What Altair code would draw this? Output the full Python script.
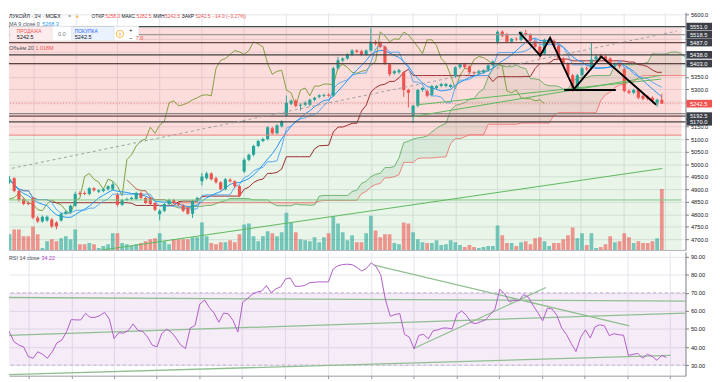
import altair as alt
import pandas as pd

FONT = "Liberation Sans"

# ---------------- data ----------------
opens = [4928,4944,4893,4861,4845,4865,4786,4771,4775,4779,
         4767,4775,4802,4810,4834,4885,4885,4881,4904,4890,
         4893,4900,4900,4877,4838,4857,4861,4861,4885,4865,
         4865,4845,4800,4814,4841,4857,4845,4834,4826,4802,
         4853,4932,4944,4963,4944,4928,4900,4938,4932,4912,
         4971,5018,5038,5073,5093,5101,5144,5124,5152,5195,
         5242,5254,5234,5238,5238,5258,5270,5274,5278,5274,
         5384,5415,5423,5439,5455,5452,5439,5455,5490,5486,
         5470,5400,5364,5368,5368,5297,5191,5234,5297,5293,
         5278,5305,5313,5313,5309,5352,5388,5400,5392,5368,
         5364,5368,5376,5396,5490,5530,5521,5490,5502,5498,
         5525,5518,5490,5470,5443,5490,5494,5474,5423,5403,
         5356,5297,5356,5384,5384,5419,5435,5431,5423,5396,
         5400,5380,5293,5286,5297,5274,5270,5266,5246,5258]
highs = [4952,4948,4897,4866,4852,4868,4792,4795,4795,4785,
         4772,4806,4815,4838,4890,4892,4892,4908,4908,4900,
         4904,4916,4930,4885,4862,4866,4870,4890,4890,4870,
         4870,4848,4820,4845,4862,4862,4850,4840,4830,4858,
         4870,4965,4970,4968,4950,4932,4945,4944,4936,4916,
         5025,5042,5078,5098,5106,5152,5150,5160,5176,5275,
         5260,5260,5244,5252,5262,5270,5280,5282,5284,5390,
         5430,5428,5444,5460,5460,5458,5460,5545,5496,5492,
         5475,5405,5378,5382,5372,5302,5238,5302,5310,5298,
         5318,5318,5326,5326,5322,5392,5405,5406,5396,5372,
         5378,5380,5400,5416,5535,5536,5526,5506,5508,5533,
         5538,5524,5496,5476,5503,5506,5500,5478,5428,5408,
         5362,5362,5390,5392,5485,5440,5442,5436,5428,5408,
         5405,5386,5300,5302,5302,5280,5276,5272,5262,5282.5]
lows = [4922,4888,4850,4836,4836,4780,4765,4766,4770,4745,
        4740,4770,4798,4805,4830,4875,4876,4876,4890,4884,
        4888,4895,4895,4830,4833,4852,4856,4856,4860,4840,
        4836,4812,4775,4808,4836,4840,4832,4808,4798,4785,
        4848,4915,4938,4935,4922,4895,4895,4926,4905,4868,
        4965,5012,5032,5068,5088,5096,5118,5119,5147,5190,
        5236,5228,5215,5232,5232,5252,5264,5268,5270,5270,
        5378,5408,5418,5434,5444,5434,5434,5450,5476,5464,
        5398,5352,5358,5362,5270,5227,5165,5228,5290,5268,
        5272,5300,5308,5308,5304,5346,5382,5383,5362,5358,
        5358,5362,5370,5390,5480,5508,5486,5484,5494,5492,
        5512,5488,5465,5420,5438,5484,5470,5418,5398,5350,
        5290,5292,5350,5374,5378,5414,5420,5410,5395,5390,
        5385,5288,5280,5280,5260,5256,5256,5248,5230,5242.5]
closes = [4940,4893,4857,4841,4841,4786,4771,4790,4790,4751,
          4751,4802,4810,4834,4881,4881,4881,4904,4896,4896,
          4900,4912,4920,4838,4857,4861,4866,4885,4865,4845,
          4841,4818,4814,4841,4857,4845,4838,4814,4802,4853,
          4865,4951,4963,4940,4928,4900,4940,4932,4912,4873,
          5018,5038,5073,5093,5101,5148,5124,5156,5172,5246,
          5254,5234,5238,5246,5258,5266,5276,5278,5274,5384,
          5416,5423,5439,5455,5450,5439,5455,5490,5482,5470,
          5403,5360,5372,5376,5297,5286,5234,5297,5305,5274,
          5313,5313,5321,5321,5317,5388,5400,5388,5368,5364,
          5372,5376,5396,5411,5530,5514,5490,5502,5500,5529,
          5518,5494,5470,5443,5498,5498,5475,5423,5403,5356,
          5301,5356,5384,5380,5419,5431,5427,5415,5400,5403,
          5392,5293,5286,5297,5266,5262,5262,5254,5258,5242.5]
volumes_k = [262,344,344,230,230,394,262,33,148,180,
             148,197,230,180,344,98,98,115,98,33,
             66,98,279,279,115,98,66,98,115,148,
             180,197,279,148,98,180,180,180,180,213,
             213,459,230,115,98,131,131,164,131,262,
             426,443,230,148,230,312,279,230,295,623,
             459,295,180,164,148,213,131,213,279,558,
             443,295,164,246,131,131,279,574,328,213,
             262,262,115,98,459,443,295,180,131,115,
             115,164,82,98,164,131,82,49,82,49,
             33,49,66,66,410,246,115,115,66,131,
             148,98,197,213,148,66,115,115,180,246,
             377,197,279,82,279,33,49,98,230,131,
             148,279,213,115,148,115,115,148,197,1018]
rsi_vals = [55.2,48.3,42.9,41.1,40.1,34.7,33.8,37.4,36.0,33.8,
            37.4,42.3,43.8,48.3,55.2,55.0,55.0,58.6,56.4,56.4,
            57.4,59.2,55.5,44.7,47.9,47.7,49.2,52.8,49.2,48.7,
            45.6,41.1,40.1,47.4,49.8,48.3,45.0,41.1,39.2,50.5,
            51.9,63.7,66.0,61.9,58.8,53.7,58.8,58.3,54.6,48.3,
            64.6,66.8,69.1,70.4,70.9,74.0,70.0,72.2,73.3,77.6,
            78.2,73.6,73.6,74.0,75.5,75.8,76.0,76.0,76.0,83.1,
            84.9,85.6,85.8,85.5,84.0,82.0,83.5,86.5,84.5,80.0,
            66.0,57.0,58.0,58.5,47.0,45.5,39.0,46.5,47.0,44.5,
            49.0,49.5,50.5,50.5,50.0,58.0,60.0,57.5,53.5,53.0,
            54.0,55.0,58.0,61.0,72.0,69.5,65.0,66.0,65.5,69.0,
            67.5,63.0,59.0,54.5,61.5,61.0,57.5,50.5,47.0,42.0,
            37.5,45.5,49.5,45.0,51.2,52.3,51.7,46.3,47.4,46.8,
            46.5,35.4,36.0,36.5,33.8,36.0,34.9,32.7,35.4,34.22]

# horizontal drawing levels
levels = [5551.0, 5518.5, 5487.0, 5438.0, 5403.0, 5203.0, 5192.5, 5170.0]
level_labels = [5551.0, 5518.5, 5487.0, 5438.0, 5403.0, 5192.5, 5170.0]
last_price = [5242.5]
zone_top = [5545.0, 5116.6]
zone_bottom = [5116.6, 4656.7]
zone_edge = [5116.6]
green_level = [4857.0]

# drawn trend lines (bar index, price)
dash_idx = [-0.7, 142.2]
dash_price = [4979.0, 5533.0]
gline_id = ["a", "a", "b", "b", "c", "c"]
gline_idx = [18.45, 139.1, 86.1, 138.9, 86.9, 138.9]
gline_price = [4653.0, 4983.0, 5191.0, 5356.0, 5238.0, 5341.0]
zig_idx = [108.6, 113.1, 115.2, 120.3, 126.1, 137.8]
zig_price = [5529.0, 5435.0, 5506.0, 5301.0, 5431.0, 5238.0]
neck_idx = [118.2, 129.2]
neck_price = [5297.0, 5297.0]

# RSI pane drawings
rline_id = ["a", "a", "b", "b", "c", "c", "d", "d", "e", "e"]
rline_idx = [-0.7, 143.0, -0.7, 143.0, -0.7, 139.9, 77.6, 131.2, 85.9, 113.7]
rline_val = [67.4, 65.4, 46.3, 58.8, 24.6, 35.4, 85.3, 51.7, 39.2, 72.9]
rsi_upper = [70]
rsi_lower = [30]

day_ticks = [5.05, 14.1, 23.0, 31.9, 40.9, 49.8, 58.9, 67.9, 77.0, 85.9,
             95.0, 103.8, 112.9, 121.7, 130.8, 139.7]
price_ticks = list(range(4700, 5601, 50))
hidden_ticks = [5550, 5500, 5450, 5400, 5250, 5200]
rsi_ticks = [30, 40, 50, 60, 70, 80, 90]

# ---------------- tables ----------------
n = len(closes)
df = pd.DataFrame({"idx": list(range(n)), "open": opens, "high": highs, "low": lows,
                   "close": closes, "vol": volumes_k, "rsi": rsi_vals})
one = pd.DataFrame({"k": [0]})

W, H1, H2 = 689, 242, 126
XS = alt.Scale(domain=[0.93, 143.0], nice=False, zero=False)
PS = alt.Scale(domain=[4656.7, 5607.9], nice=False, zero=False)
VS = alt.Scale(domain=[0, 3973], nice=False, zero=False)
RS = alt.Scale(domain=[24.19, 92.55], nice=False, zero=False)

GRID = "#e3e6ec"
hide_expr = "indexof(" + str(hidden_ticks) + ", datum.value) >= 0 ? '' : datum.label"
XAX_P = alt.Axis(values=day_ticks, grid=True, gridColor=GRID, labels=False, ticks=False,
                 domain=True, domainColor="#b2b5be", title=None)
XAX_R = alt.Axis(values=day_ticks, grid=True, gridColor=GRID, labels=False, ticks=True,
                 tickSize=3, tickColor="#9598a1", domain=True, domainColor="#9598a1", title=None)
YAX_P = alt.Axis(orient="right", values=price_ticks, format=".1f", grid=True, gridColor=GRID,
                 labelExpr=hide_expr,
                 labelFont=FONT, labelFontSize=5.8, labelColor="#131722", labelPadding=2,
                 tickSize=3, tickColor="#787b86", domainColor="#787b86", title=None)
RAX = alt.Axis(orient="right", values=rsi_ticks, format=".2f", grid=True, gridColor=GRID,
               labelFont=FONT, labelFontSize=5.8, labelColor="#131722", labelPadding=2,
               tickSize=3, tickColor="#787b86", domainColor="#787b86", title=None)


def xq(field="idx", ax=XAX_P):
    return alt.X(f"{field}:Q", scale=XS, axis=ax)


def yp(field, axis=True):
    return alt.Y(f"{field}:Q", scale=PS, axis=YAX_P if axis else None)


def yr(field):
    return alt.Y(f"{field}:Q", scale=RS, axis=RAX)


def txt(s, x, y, color="#131722", size=5.5, weight="normal", align="left"):
    return alt.Chart(one).mark_text(text=s, align=align, baseline="middle", font=FONT,
                                    fontSize=size, color=color, fontWeight=weight).encode(
        x=alt.value(x), y=alt.value(y))


def box(x1, y1, x2, y2, fill, stroke="#e0e3eb"):
    return alt.Chart(one).mark_rect(fill=fill, stroke=stroke, strokeWidth=0.6).encode(
        x=alt.value(x1), x2=alt.value(x2), y=alt.value(y1), y2=alt.value(y2))


DIR = alt.Color("dir:N", scale=alt.Scale(domain=["up", "down"], range=["#26a69a", "#ef5350"]),
                legend=None)

# ---------------- lower group (backgrounds, cloud) ----------------
zones = pd.DataFrame({"top": zone_top, "bottom": zone_bottom, "c": ["#f44336", "#4caf50"],
                      "o": [0.18, 0.13]})
bg = alt.Chart(zones).mark_rect().encode(
    x=alt.value(0), x2=alt.value(685), y=yp("top", False), y2=alt.Y2("bottom"),
    color=alt.Color("c:N", scale=None), opacity=alt.Opacity("o:Q", scale=None))

srt = [alt.SortField("idx")]
ich = (alt.Chart(df)
       .transform_window(hh9="max(high)", ll9="min(low)", frame=[-8, 0], sort=srt)
       .transform_window(hh26="max(high)", ll26="min(low)", frame=[-25, 0], sort=srt)
       .transform_window(hh52="max(high)", ll52="min(low)", frame=[-51, 0], sort=srt)
       .transform_window(ma9="mean(close)", frame=[-8, 0], sort=srt)
       .transform_calculate(tenkan="(datum.hh9 + datum.ll9) / 2")
       .transform_calculate(kijun="(datum.hh26 + datum.ll26) / 2")
       .transform_calculate(spanA="(datum.tenkan + datum.kijun) / 2")
       .transform_calculate(spanB="(datum.hh52 + datum.ll52) / 2")
       .transform_calculate(lowAB="min(datum.spanA, datum.spanB)")
       .transform_calculate(xf="datum.idx + 25")
       .transform_calculate(xc="datum.idx - 25"))

cloud_g = ich.mark_area(color="#2e7d32", opacity=0.09, clip=True).encode(
    x=xq("xf"), y=yp("spanA", False), y2=alt.Y2("lowAB"))
cloud_r = ich.mark_area(color="#ff0000", opacity=0.1, clip=True).encode(
    x=xq("xf"), y=yp("spanB", False), y2=alt.Y2("lowAB"))

lower = alt.layer(bg, cloud_g, cloud_r)

# ---------------- volume ----------------
cand = alt.Chart(df).transform_calculate(dir="datum.close >= datum.open ? 'up' : 'down'")
vol = cand.mark_bar(width=3.8, opacity=0.6, clip=True).encode(
    x=xq(), y=alt.Y("vol:Q", scale=VS, axis=None), color=DIR)

# ---------------- upper group ----------------
spanA_l = ich.mark_line(color="#43a047", strokeWidth=0.9, opacity=0.8, clip=True).encode(
    x=xq("xf"), y=yp("spanA"))
spanB_l = ich.mark_line(color="#ef5350", strokeWidth=0.9, opacity=0.75, clip=True).encode(
    x=xq("xf"), y=yp("spanB"))
chikou = ich.mark_line(color="#7f9f3f", strokeWidth=1, clip=True).encode(
    x=xq("xc"), y=yp("close"))
kijun = ich.mark_line(color="#9b2c2c", strokeWidth=1, clip=True).encode(
    x=xq(), y=yp("kijun"))
tenkan = ich.mark_line(color="#5aa9f0", strokeWidth=1, clip=True).encode(
    x=xq(), y=yp("tenkan"))
ma9 = ich.mark_line(color="#2196f3", strokeWidth=1, clip=True).encode(
    x=xq(), y=yp("ma9"))

wick = cand.mark_rule(strokeWidth=1, clip=True).encode(
    x=xq(), y=yp("low"), y2=alt.Y2("high"), color=DIR)
body = cand.mark_bar(width=3.2, clip=True).encode(
    x=xq(), y=yp("open"), y2=alt.Y2("close"), color=DIR)

lev_df = pd.DataFrame({"p": levels,
                       "c": ["#4a4a4a", "#9a9a9a", "#6b4848", "#3f3f3f", "#5a4444",
                             "#8a8a8a", "#6b4848", "#444444"]})
lev = alt.Chart(lev_df).mark_rule(strokeWidth=1.3).encode(
    y=yp("p"), color=alt.Color("c:N", scale=None))
edge = alt.Chart(pd.DataFrame({"p": zone_edge})).mark_rule(color="#ef7b7b", strokeWidth=1).encode(
    x=alt.value(0), x2=alt.value(685), y=yp("p"))
glev = alt.Chart(pd.DataFrame({"p": green_level})).mark_rule(color="#81c784", strokeWidth=1).encode(
    x=alt.value(0), x2=alt.value(685), y=yp("p"))
lastl = alt.Chart(pd.DataFrame({"p": last_price})).mark_rule(
    color="#ef5350", strokeWidth=0.8, strokeDash=[1, 2], opacity=0.8).encode(y=yp("p"))

dash = alt.Chart(pd.DataFrame({"i": dash_idx, "p": dash_price})).mark_line(
    color="#9e9e9e", strokeWidth=1, strokeDash=[3, 3], clip=True).encode(x=xq("i"), y=yp("p"))
glines = alt.Chart(pd.DataFrame({"id": gline_id, "i": gline_idx, "p": gline_price})).mark_line(
    color="#5cb85c", strokeWidth=1, clip=True).encode(x=xq("i"), y=yp("p"), detail="id:N")
zig = alt.Chart(pd.DataFrame({"i": zig_idx, "p": zig_price})).mark_line(
    color="#000000", strokeWidth=2, clip=True).encode(x=xq("i"), y=yp("p"), order="i:Q")
neck = alt.Chart(pd.DataFrame({"i": neck_idx, "p": neck_price})).mark_line(
    color="#000000", strokeWidth=2, clip=True).encode(x=xq("i"), y=yp("p"))

# price-scale boxes
BOX = "M-1,-0.3L1,-0.3L1,0.3L-1,0.3Z"
lab_df = pd.DataFrame({"p": level_labels})
lab_box = alt.Chart(lab_df).mark_point(shape=BOX, filled=True, size=676, color="#3c3f47",
                                       opacity=1).encode(x=alt.value(703), y=yp("p"))
lab_txt = alt.Chart(lab_df).mark_text(align="left", baseline="middle", font=FONT, fontSize=5.8,
                                      color="white").encode(
    x=alt.value(693.5), y=yp("p"), text=alt.Text("p:Q", format=".1f"))
lp_df = pd.DataFrame({"p": last_price})
lp_box = alt.Chart(lp_df).mark_point(shape=BOX, filled=True, size=676, color="#ef5350",
                                     opacity=1).encode(x=alt.value(703), y=yp("p"))
lp_txt = alt.Chart(lp_df).mark_text(align="left", baseline="middle", font=FONT, fontSize=5.8,
                                    color="white").encode(
    x=alt.value(693.5), y=yp("p"), text=alt.Text("p:Q", format=".1f"))

RED = "#ef5350"
S1 = 5.0
header = [
    txt("ЛУКОЙЛ · 1Ч · MOEX", 0, 3.5, "#131722", 5.3),
    txt("=", 60, 3.5, "#787b86", 5.3),
    txt("≡", 68, 3.5, "#ff9800", 5.3),
    txt("ОТКР", 84, 3.5, "#131722", S1), txt("5258.0", 98, 3.5, RED, S1),
    txt("МАКС", 114.5, 3.5, "#131722", S1), txt("5282.5", 130, 3.5, RED, S1),
    txt("МИН", 147, 3.5, "#131722", S1), txt("5242.5", 159, 3.5, RED, S1),
    txt("ЗАКР", 176, 3.5, "#131722", S1), txt("5242.5", 190, 3.5, RED, S1),
    txt("−14.0 (−0.27%)", 207, 3.5, RED, S1),
    txt("MA 9 close 0", 0, 11.5, "#4a4e59"), txt("5268.3", 34, 11.5, "#2196f3"),
    box(1, 14, 44, 29, "#fdeced"),
    box(44, 14, 64, 29, "#ffffff"),
    box(64, 14, 107, 29, "#e9f2fd"),
    box(107, 14, 132, 29, "#ffffff"),
    txt("ПРОДАЖА", 8, 18.5, RED, 5.0),
    txt("5242.5", 8, 25, "#131722", 5.6),
    txt("0.0", 50, 22, "#787b86", 5.6),
    txt("ПОКУПКА", 67, 18.5, "#2962ff", 5.0),
    txt("5242.5", 67, 25, "#131722", 5.6),
    alt.Chart(one).mark_point(shape="circle", size=55, color="#ff9800", strokeWidth=1).encode(
        x=alt.value(113), y=alt.value(22)),
    txt("i", 113, 22, "#ff9800", 5.6, "bold", "center"),
    txt("+", 124, 18, "#131722", 6, "normal", "center"),
    txt("−", 124, 26, "#131722", 6, "normal", "center"),
    txt("7.0", 129, 26, RED, 5.5),
    txt("Объём 20", 0, 36, "#4a4e59"), txt("1.018M", 27, 36, RED),
]

upper = alt.layer(spanA_l, spanB_l, chikou, kijun, tenkan, ma9, wick, body,
                  lev, edge, glev, lastl, dash, glines, zig, neck,
                  lab_box, lab_txt, lp_box, lp_txt, *header)

price = alt.layer(lower, vol, upper).resolve_scale(y="independent").properties(width=W, height=H1)

# ---------------- RSI pane ----------------
band_df = pd.DataFrame({"top": rsi_upper, "bot": rsi_lower})
band = alt.Chart(band_df).mark_rect(color="#9c27b0", opacity=0.09).encode(
    x=alt.value(0), x2=alt.value(W), y=yr("top"), y2=alt.Y2("bot"))
band_lines = alt.Chart(pd.DataFrame({"v": rsi_upper + rsi_lower})).mark_rule(
    color="#b79cc8", strokeDash=[3, 3], strokeWidth=0.8).encode(y=yr("v"))
rl_df = pd.DataFrame({"id": rline_id, "i": rline_idx, "v": rline_val})
rlines = alt.Chart(rl_df).mark_line(color="#8fbf8f", strokeWidth=1.3, clip=True).encode(
    x=xq("i", XAX_R), y=yr("v"), detail="id:N")
rsi_line = alt.Chart(df).mark_line(color="#b05cc8", strokeWidth=1, clip=True).encode(
    x=xq("idx", XAX_R), y=yr("rsi"))
rsi_txt = [txt("RSI 14 close", 0, 6, "#4a4e59"), txt("34.22", 33, 6, "#ab47bc")]

rsi_chart = alt.layer(band, band_lines, rlines, rsi_line, *rsi_txt).properties(width=W, height=H2)

chart = (alt.vconcat(price, rsi_chart, spacing=2, bounds="flush")
         .properties(padding=0, background="white")
         .configure_view(stroke=None))

chart.save("out.html", embed_options={"renderer": "svg", "actions": False})
